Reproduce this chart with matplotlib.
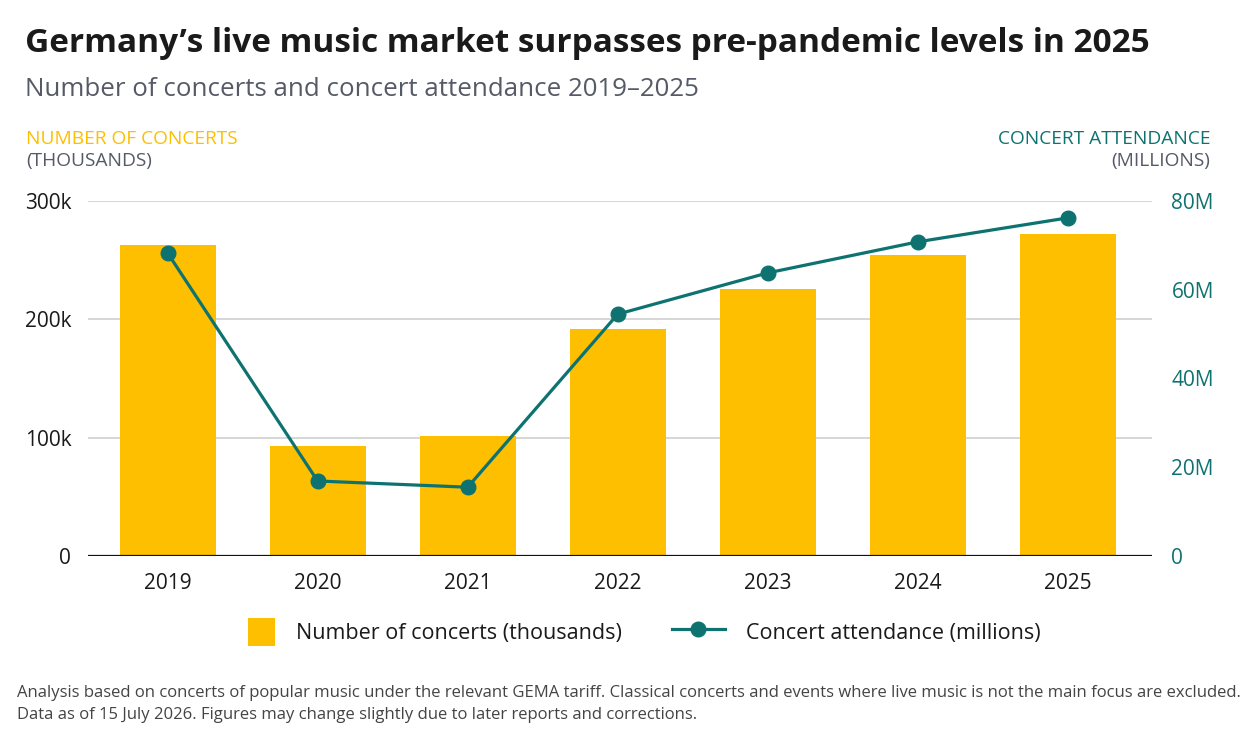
from matplotlib import rcParams, use
use('Agg')

import numpy as np
import matplotlib.pyplot as plt
from matplotlib.patches import Rectangle
from matplotlib.legend_handler import HandlerPatch

# data
years = ['2019', '2020', '2021', '2022', '2023', '2024', '2025']
concerts_k = [263, 93, 101, 192, 226, 254, 272]        # thousands
attendance_m = [68.3, 16.9, 15.5, 54.5, 63.8, 70.8, 76.2]  # millions

yellow = '#FDBF00'
teal = '#0E7370'
dark = '#1a1a1a'
grey = '#555a66'

rcParams.update({'font.family': ['Open Sans', 'DejaVu Sans']})

fig = plt.figure(figsize=(12.5, 7.48), dpi=100)
ax1 = fig.add_axes([0.0704, 0.2567, 0.8512, 0.4746])
ax2 = ax1.twinx()

x = np.arange(len(years))
bars = ax1.bar(x, concerts_k, width=0.64, color=yellow, zorder=2)
line, = ax2.plot(x, attendance_m, color=teal, lw=2.3, marker='o', ms=10.5, zorder=3)

ax1.set_xlim(-0.53, 6.56)
ax1.set_ylim(0, 300)
ax2.set_ylim(0, 80)

ax1.set_yticks([0, 100, 200, 300])
ax1.set_yticklabels(['0', '100k', '200k', '300k'])
ax2.set_yticks([0, 20, 40, 60, 80])
ax2.set_yticklabels(['0', '20M', '40M', '60M', '80M'])
ax1.set_xticks(x)
ax1.set_xticklabels(years)

ax1.grid(axis='y', color='#cfcfcf', lw=1.2, zorder=0)
ax1.set_axisbelow(True)
for ax in (ax1, ax2):
    for s in ('top', 'left', 'right', 'bottom'):
        ax.spines[s].set_visible(False)
ax1.axhline(0, color='#111111', lw=1.6, zorder=4)

ax1.tick_params(axis='y', length=0, pad=12, labelsize=15, labelcolor=dark)
ax1.tick_params(axis='x', length=0, pad=12, labelsize=15, labelcolor=dark)
ax2.tick_params(axis='y', length=0, pad=14, labelsize=15, labelcolor=teal)
ax2.set_zorder(ax1.get_zorder() + 1)
ax2.patch.set_visible(False)

# header
fig.text(0.02, 1 - 44/748, 'Germany\u2019s live music market surpasses pre-pandemic levels in 2025',
         fontsize=24, fontweight='bold', color=dark, va='center')
fig.text(0.02, 1 - 90/748, 'Number of concerts and concert attendance 2019\u20132025',
         fontsize=18.6, color=grey, va='center')
fig.text(0.021, 1 - 139/748, 'NUMBER OF CONCERTS', fontsize=13.8, color=yellow, va='center')
fig.text(0.021, 1 - 161/748, '(THOUSANDS)', fontsize=13.8, color=grey, va='center')
fig.text(0.968, 1 - 139/748, 'CONCERT ATTENDANCE', fontsize=13.8, color=teal,
         va='center', ha='right')
fig.text(0.968, 1 - 161/748, '(MILLIONS)', fontsize=13.8, color=grey,
         va='center', ha='right')


# legend: square patch for the bars, right-aligned in the handle box
def square(legend, orig_handle, xdescent, ydescent, width, height, fontsize):
    s = 19.5
    return Rectangle((-xdescent + width - s, -ydescent + (height - s) / 2), s, s)


fig.legend([bars.patches[0], line],
           ['Number of concerts (thousands)', 'Concert attendance (millions)'],
           loc='center', bbox_to_anchor=(0.5052, 1 - 632/748),
           ncol=2, frameon=False, handlelength=2.45, handleheight=1.4,
           columnspacing=2.3, handletextpad=1.0, labelcolor=dark,
           handler_map={Rectangle: HandlerPatch(patch_func=square)},
           prop={'size': 15.5})

# footnote
note = ('Analysis based on concerts of popular music under the relevant GEMA tariff. '
        'Classical concerts and events where live music is not the main focus are excluded.\n'
        'Data as of 15 July 2026. Figures may change slightly due to later reports and corrections.')
fig.text(0.0136, 1 - 704/748, note, fontsize=12, color='#444444', va='center',
         linespacing=1.55)

plt.savefig('out.png', dpi=100)
